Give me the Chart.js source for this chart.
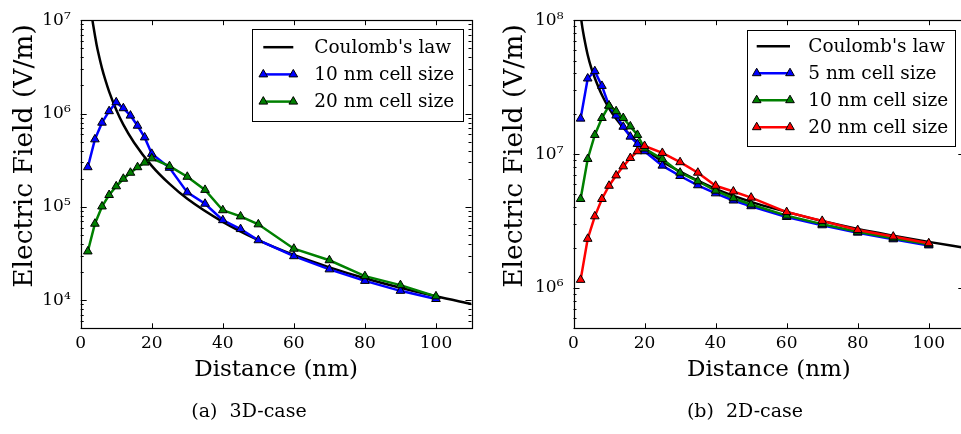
<!DOCTYPE html>
<html>
<head>
<meta charset="utf-8">
<title>Electric field versus distance</title>
<script src="https://cdn.jsdelivr.net/npm/chart.js@4.4.1/dist/chart.umd.min.js"></script>
<style>
  html, body { margin: 0; padding: 0; background: #fff; }
  body { width: 961px; height: 434px; overflow: hidden; position: relative; font-family: "DejaVu Serif", serif; }
  .panel { position: absolute; top: 0; height: 434px; }
  #panelA { left: 0; width: 490px; }
  #panelB { left: 490px; width: 500px; }
  .caption { position: absolute; top: 399px; width: 240px; text-align: center; font-family: "DejaVu Serif", serif; font-size: 19px; color: #000; white-space: pre; }
</style>
</head>
<body>
<div class="panel" id="panelA"><canvas id="chart3d" width="490" height="434"></canvas></div>
<div class="panel" id="panelB"><canvas id="chart2d" width="500" height="434"></canvas></div>
<div class="caption" style="left:129px">(a)  3D-case</div>
<div class="caption" style="left:625px">(b)  2D-case</div>
<script>
// Sample distances (nm) shared by the simulated series
const distance = [2, 4, 6, 8, 10, 12, 14, 16, 18, 20, 25, 30, 35, 40, 45, 50, 60, 70, 80, 90, 100];
const distanceTicks = [0, 20, 40, 60, 80, 100];

// 3D case: Coulomb reference curve and simulated fields (V/m)
const coulomb3dDistance = [3.1, 3.3, 3.6, 4, 4.5, 5, 6, 7, 8, 10, 12, 15, 20, 25, 30, 40, 50, 60, 70, 80, 90, 100, 110];
const coulomb3dField = [1.15e7, 1.0e7, 8.5e6, 6.9e6, 5.4e6, 4.4e6, 3.05e6, 2.25e6, 1.72e6, 1.1e6, 7.6e5, 4.9e5, 2.75e5, 1.76e5, 1.22e5, 6.9e4, 4.4e4, 3.05e4, 2.25e4, 1.72e4, 1.36e4, 1.1e4, 9.1e3];
const field3dCell10 = [2.66e5, 5.29e5, 7.98e5, 1.06e6, 1.32e6, 1.14e6, 9.5e5, 7.4e5, 5.55e5, 3.7e5, 2.62e5, 1.43e5, 1.08e5, 7.2e4, 5.78e4, 4.39e4, 2.96e4, 2.14e4, 1.61e4, 1.26e4, 1.03e4];
const field3dCell20 = [3.33e4, 6.6e4, 1.01e5, 1.34e5, 1.66e5, 2.0e5, 2.32e5, 2.66e5, 2.98e5, 3.31e5, 2.73e5, 2.1e5, 1.52e5, 9.2e4, 7.9e4, 6.5e4, 3.56e4, 2.68e4, 1.81e4, 1.45e4, 1.1e4];

// 2D case: Coulomb reference curve and simulated fields (V/m)
const coulomb2dDistance = [2.0, 2.2, 2.5, 3, 4, 5, 6, 8, 10, 12, 15, 20, 25, 30, 40, 50, 60, 70, 80, 90, 100, 110];
const coulomb2dField = [1.1e8, 1.0e8, 8.8e7, 7.4e7, 5.5e7, 4.4e7, 3.7e7, 2.76e7, 2.2e7, 1.84e7, 1.47e7, 1.1e7, 8.8e6, 7.4e6, 5.5e6, 4.4e6, 3.7e6, 3.16e6, 2.76e6, 2.46e6, 2.21e6, 2.0e6];
const field2dCell5 = [1.84e7, 3.67e7, 4.16e7, 3.23e7, 2.3e7, 1.94e7, 1.6e7, 1.35e7, 1.19e7, 1.05e7, 8.2e6, 6.86e6, 5.85e6, 5.09e6, 4.5e6, 4.08e6, 3.39e6, 2.94e6, 2.59e6, 2.31e6, 2.08e6];
const field2dCell10 = [4.62e6, 9.2e6, 1.39e7, 1.86e7, 2.3e7, 2.09e7, 1.86e7, 1.61e7, 1.39e7, 1.1e7, 9.2e6, 7.26e6, 6.27e6, 5.33e6, 4.68e6, 4.2e6, 3.47e6, 3.0e6, 2.63e6, 2.35e6, 2.12e6];
const field2dCell20 = [1.15e6, 2.33e6, 3.43e6, 4.62e6, 5.8e6, 6.93e6, 8.1e6, 9.35e6, 1.05e7, 1.15e7, 1.02e7, 8.7e6, 7.26e6, 5.8e6, 5.26e6, 4.73e6, 3.69e6, 3.17e6, 2.71e6, 2.42e6, 2.16e6];

const FONT = '"DejaVu Serif", serif';
const SUPERSCRIPT = { '0': '⁰', '1': '¹', '2': '²', '3': '³', '4': '⁴', '5': '⁵', '6': '⁶', '7': '⁷', '8': '⁸', '9': '⁹', '-': '⁻' };

const toPoints = (xs, ys) => xs.map((x, i) => ({ x: x, y: ys[i] }));
const isDecade = v => Math.abs(Math.log10(v) - Math.round(Math.log10(v))) < 1e-9;
const decadeLabel = v => '10' + String(Math.round(Math.log10(v))).split('').map(c => SUPERSCRIPT[c]).join('');

// Decade and sub-decade positions (1..9 x 10^n) inside the axis range
function logTickValues(min, max) {
  const out = [];
  for (let e = Math.floor(Math.log10(min)); e <= Math.ceil(Math.log10(max)); e++) {
    for (let m = 1; m <= 9; m++) {
      const v = Number((m * Math.pow(10, e)).toPrecision(6));
      if (v >= min * 0.999999 && v <= max * 1.000001) out.push(v);
    }
  }
  return out;
}

function coulombSeries(xs, ys, order) {
  return {
    label: "Coulomb's law", data: toPoints(xs, ys), order: order,
    borderColor: '#000', backgroundColor: '#000', borderWidth: 2.5,
    pointRadius: 0, cubicInterpolationMode: 'monotone', clip: 0
  };
}

function simSeries(label, ys, color, order) {
  return {
    label: label, data: toPoints(distance, ys), order: order,
    borderColor: color, backgroundColor: color, borderWidth: 2.5, tension: 0,
    pointStyle: 'triangle', pointRadius: 5, pointBackgroundColor: color,
    pointBorderColor: '#000', pointBorderWidth: 1, clip: 0
  };
}

// Axes frame with inward ticks on all four sides
const frameTicks = {
  id: 'frameTicks',
  afterDatasetsDraw(chart) {
    const { ctx, chartArea: a, scales } = chart;
    ctx.save();
    ctx.strokeStyle = '#000';
    ctx.lineWidth = 1;
    ctx.beginPath();
    distanceTicks.forEach(v => {
      const px = Math.round(scales.x.getPixelForValue(v)) + 0.5;
      ctx.moveTo(px, a.bottom); ctx.lineTo(px, a.bottom - 5);
      ctx.moveTo(px, a.top); ctx.lineTo(px, a.top + 5);
    });
    logTickValues(scales.y.min, scales.y.max).forEach(v => {
      const py = Math.round(scales.y.getPixelForValue(v)) + 0.5;
      const len = isDecade(v) ? 6 : 3;
      ctx.moveTo(a.left, py); ctx.lineTo(a.left + len, py);
      ctx.moveTo(a.right, py); ctx.lineTo(a.right - len, py);
    });
    ctx.stroke();
    ctx.lineWidth = 1.2;
    ctx.strokeRect(Math.round(a.left) + 0.5, Math.round(a.top) + 0.5, Math.round(a.right - a.left), Math.round(a.bottom - a.top));
    ctx.restore();
  }
};

// Vertical axis title, centred at a fixed height beside the tick labels
const fieldTitle = {
  id: 'fieldTitle',
  afterDraw(chart, args, opts) {
    const { ctx } = chart;
    ctx.save();
    ctx.translate(opts.x, opts.y);
    ctx.rotate(-Math.PI / 2);
    ctx.fillStyle = '#000';
    ctx.font = opts.size + 'px ' + FONT;
    ctx.textAlign = 'center';
    ctx.textBaseline = 'middle';
    ctx.fillText(opts.text, 0, 0);
    ctx.restore();
  }
};

// Boxed legend in the upper-right corner of the plotting area
const insetLegend = {
  id: 'insetLegend',
  afterDatasetsDraw(chart, args, opts) {
    const { ctx, chartArea: a } = chart;
    const x = a.right - opts.insetRight - opts.width;
    const y = a.top + opts.insetTop;
    const h = opts.firstRow + opts.rowGap * (chart.data.datasets.length - 1) + opts.lastPad;
    ctx.save();
    ctx.fillStyle = '#fff';
    ctx.fillRect(x, y, opts.width, h);
    ctx.strokeStyle = '#000';
    ctx.lineWidth = 1;
    ctx.strokeRect(Math.round(x) + 0.5, Math.round(y) + 0.5, Math.round(opts.width), Math.round(h));
    chart.data.datasets.forEach((ds, i) => {
      const ry = y + opts.firstRow + i * opts.rowGap;
      const x0 = x + opts.lineStart, x1 = x + opts.lineEnd;
      ctx.strokeStyle = ds.borderColor;
      ctx.lineWidth = ds.borderWidth;
      ctx.beginPath(); ctx.moveTo(x0, ry); ctx.lineTo(x1, ry); ctx.stroke();
      if (ds.pointRadius > 0) {
        [x0, x1].forEach(px => {
          ctx.fillStyle = ds.pointBackgroundColor;
          ctx.strokeStyle = ds.pointBorderColor;
          ctx.lineWidth = ds.pointBorderWidth;
          Chart.helpers.drawPoint(ctx, { pointStyle: 'triangle', radius: ds.pointRadius, rotation: 0, borderWidth: ds.pointBorderWidth }, px, ry);
        });
      }
      ctx.fillStyle = '#000';
      ctx.font = '18.5px ' + FONT;
      ctx.textAlign = 'left';
      ctx.textBaseline = 'middle';
      ctx.fillText(ds.label, x + opts.textStart, ry + 1);
    });
    ctx.restore();
  }
};

function makePanel(canvasId, cfg) {
  return new Chart(document.getElementById(canvasId), {
    type: 'line',
    data: { datasets: cfg.datasets },
    options: {
      responsive: false, animation: false, devicePixelRatio: 1, events: [],
      layout: { padding: { left: 0, top: 14.7, right: cfg.padRight, bottom: 0 } },
      scales: {
        x: {
          type: 'linear', min: 0, max: 110,
          afterBuildTicks: s => { s.ticks = distanceTicks.map(v => ({ value: v })); },
          afterFit: s => { s.height = 105.7; },
          grid: { display: false, drawTicks: false },
          border: { display: false },
          ticks: { autoSkip: false, maxRotation: 0, padding: 5, color: '#000', font: { family: FONT, size: 17 }, callback: v => String(v) },
          title: { display: true, text: 'Distance (nm)', color: '#000', font: { family: FONT, size: 23 }, padding: { top: 0, bottom: 50.2 } }
        },
        y: {
          type: 'logarithmic', min: cfg.yMin, max: cfg.yMax,
          afterBuildTicks: s => { s.ticks = logTickValues(cfg.yMin, cfg.yMax).map(v => ({ value: v, major: isDecade(v) })); },
          afterFit: s => { s.width = cfg.yAxisWidth; },
          grid: { display: false, drawTicks: false },
          border: { display: false },
          ticks: { autoSkip: false, padding: 10, color: '#000', font: { family: FONT, size: 17 }, callback: v => (isDecade(v) ? decadeLabel(v) : '') },
          title: { display: false }
        }
      },
      plugins: {
        legend: { display: false },
        tooltip: { enabled: false },
        insetLegend: cfg.legend,
        fieldTitle: { text: 'Electric Field (V/m)', size: 26.5, x: 25, y: 156 }
      }
    },
    plugins: [frameTicks, insetLegend, fieldTitle]
  });
}

makePanel('chart3d', {
  yMin: 5e3, yMax: 1e7, yAxisWidth: 80.7, padRight: 18.5,
  legend: { insetRight: 9.2, insetTop: 8.6, width: 210.6, firstRow: 18.4, rowGap: 27.2, lastPad: 19, lineStart: 11.6, lineEnd: 41.6, textStart: 62.6 },
  datasets: [
    coulombSeries(coulomb3dDistance, coulomb3dField, 3),
    simSeries('10 nm cell size', field3dCell10, '#0000ff', 2),
    simSeries('20 nm cell size', field3dCell20, '#008000', 1)
  ]
});

makePanel('chart2d', {
  yMin: 5e5, yMax: 1e8, yAxisWidth: 83.5, padRight: 25.7,
  legend: { insetRight: 9.3, insetTop: 9.3, width: 207.7, firstRow: 16.7, rowGap: 27, lastPad: 18.3, lineStart: 9.4, lineEnd: 42.7, textStart: 61 },
  datasets: [
    coulombSeries(coulomb2dDistance, coulomb2dField, 4),
    simSeries('5 nm cell size', field2dCell5, '#0000ff', 3),
    simSeries('10 nm cell size', field2dCell10, '#008000', 2),
    simSeries('20 nm cell size', field2dCell20, '#ff0000', 1)
  ]
});
</script>
</body>
</html>
